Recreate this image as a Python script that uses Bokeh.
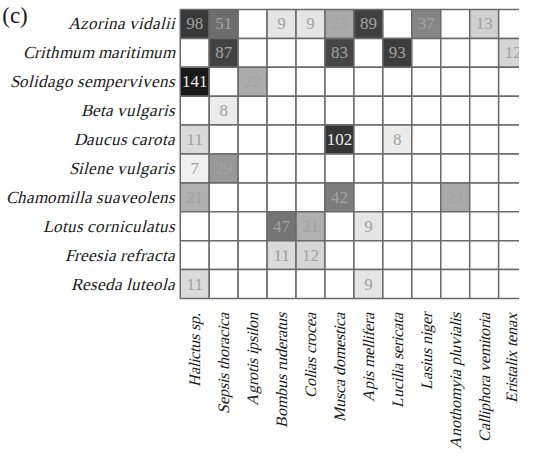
import math
from bokeh.plotting import figure
from bokeh.models import Range1d, FixedTicker, ColumnDataSource
from bokeh.core.properties import value
from bokeh.embed import file_html
from bokeh.resources import INLINE

plants = ["Azorina vidalii", "Crithmum maritimum", "Solidago sempervivens",
          "Beta vulgaris", "Daucus carota", "Silene vulgaris",
          "Chamomilla suaveolens", "Lotus corniculatus", "Freesia refracta",
          "Reseda luteola"]

pollinators = ["Halictus sp.", "Sepsis thoracica", "Agrotis ipsilon",
               "Bombus ruderatus", "Colias crocea", "Musca domestica",
               "Apis mellifera", "Lucilia sericata", "Lasius niger",
               "Anothomyia pluvialis", "Calliphora vemitoria", "Eristalix tenax"]

# visit counts: one list per plant (row), one entry per pollinator (column); 0 = none
azorina    = [98, 51, 0, 9, 9, 23, 89, 0, 37, 0, 13, 0]
crithmum   = [0, 87, 0, 0, 0, 83, 0, 93, 0, 0, 0, 12]
solidago   = [141, 0, 22, 0, 0, 0, 0, 0, 0, 0, 0, 0]
beta       = [0, 8, 0, 0, 0, 0, 0, 0, 0, 0, 0, 0]
daucus     = [11, 0, 0, 0, 0, 102, 0, 8, 0, 0, 0, 0]
silene     = [7, 29, 0, 0, 0, 0, 0, 0, 0, 0, 0, 0]
chamomilla = [21, 0, 0, 0, 0, 42, 0, 0, 0, 23, 0, 0]
lotus      = [0, 0, 0, 47, 21, 0, 9, 0, 0, 0, 0, 0]
freesia    = [0, 0, 0, 11, 12, 0, 0, 0, 0, 0, 0, 0]
reseda     = [11, 0, 0, 0, 0, 0, 9, 0, 0, 0, 0, 0]

counts = [azorina, crithmum, solidago, beta, daucus, silene,
          chamomilla, lotus, freesia, reseda]

panel_letter = "(c)"

vmin, vmax = 7, 141
SERIF = "Liberation Serif"
# family with a single (regular) face, so the browser slants it for italic text
SERIF_IT = "SerifSyn, 'Liberation Serif'"
FONT_FACE = ("<style>@font-face{font-family:'SerifSyn';"
             "src:local('Liberation Serif'),local('LiberationSerif'),"
             "local('LiberationSerif-Regular');font-style:normal;font-weight:400;}</style>")


def shade(v):
    if v <= 0:
        return "#ffffff"
    t = (math.log(v) - math.log(vmin)) / (math.log(vmax) - math.log(vmin))
    t = min(max(t, 0.0), 1.0)
    g = int(round(240 - 215 * t ** 1.2))
    return "#%02x%02x%02x" % (g, g, g)


xs, ys, fills = [], [], []
tx, ty, tt, tc = [], [], [], []
for r, row in enumerate(counts):
    for c, v in enumerate(row):
        xs.append(c + 0.5)
        ys.append(r + 0.5)
        fills.append(shade(v))
        if v > 0:
            tx.append(c + 0.5)
            ty.append(r + 0.5)
            tt.append(str(v))
            tc.append("#ececec" if v >= 100 else "#a2a2a2")

cells = ColumnDataSource(dict(x=xs, y=ys, fill=fills))
labels = ColumnDataSource(dict(x=tx, y=ty, text=tt, color=tc))
rows = ColumnDataSource(dict(y=[i + 0.5 for i in range(len(plants))], text=plants))

p = figure(width=519, height=451, output_backend="svg", toolbar_location=None,
           x_range=Range1d(-6.21, 11.72), y_range=Range1d(10.07, -0.07),
           min_border_left=0, min_border_right=0, min_border_top=7,
           min_border_bottom=147)
p.outline_line_color = None
p.background_fill_color = "white"
p.border_fill_color = "white"
p.xgrid.grid_line_color = None
p.ygrid.grid_line_color = None
p.yaxis.visible = False

p.rect(x="x", y="y", width=1, height=1, source=cells, fill_color="fill",
       line_color="#6a6a6a", line_width=1.5)
p.text(x="x", y="y", text="text", source=labels, text_color="color",
       text_align="center", text_baseline="middle", text_font_size="17px",
       text_font=value(SERIF))

# row labels (plants)
p.text(x=-0.17, y="y", text="text", source=rows, text_color="#1a1a1a",
       text_align="right", text_baseline="middle", text_font_size="17px",
       text_font=value(SERIF_IT), text_font_style="italic")

# panel letter
p.text(x=[-6.15], y=[-0.24], text=[panel_letter], text_color="#1a1a1a",
       text_align="left", text_baseline="top", text_font_size="23px",
       text_font=value(SERIF))

p.xaxis.ticker = FixedTicker(ticks=[i + 0.5 for i in range(len(pollinators))])
p.xaxis.major_label_overrides = {i + 0.5: n for i, n in enumerate(pollinators)}
p.xaxis.major_label_orientation = math.pi / 2
p.xaxis.axis_line_color = None
p.xaxis.major_tick_line_color = None
p.xaxis.minor_tick_line_color = None
p.xaxis.major_label_text_font = SERIF_IT
p.xaxis.major_label_text_font_style = "italic"
p.xaxis.major_label_text_font_size = "16px"
p.xaxis.major_label_text_color = "#1a1a1a"
p.xaxis.major_label_standoff = 6

html = file_html(p, INLINE)
html = html.replace("</head>", FONT_FACE + "</head>", 1)
open("out.html", "w").write(html)
